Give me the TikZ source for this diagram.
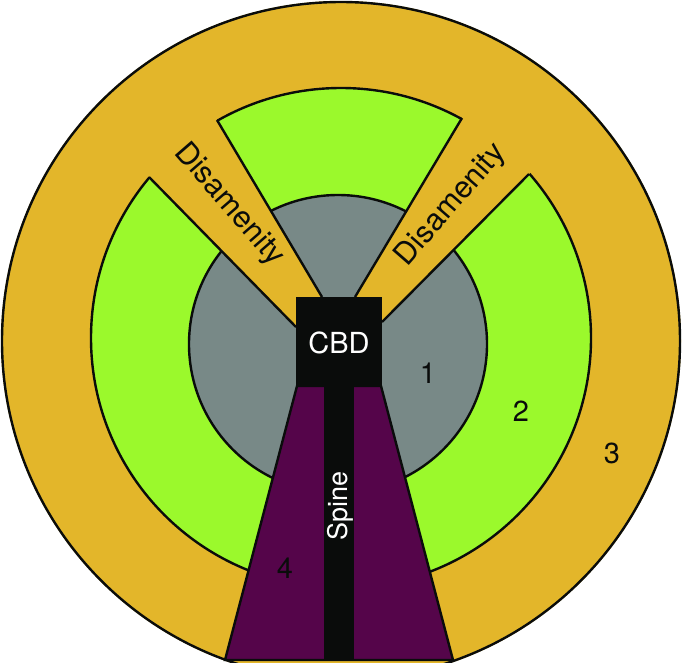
\documentclass[tikz,border=0pt]{standalone}
\usepackage{fontspec}
\setmainfont{TeX Gyre Heros}
\usetikzlibrary{calc}
\definecolor{ringorange}{HTML}{E3B62A}
\definecolor{ringgreen}{HTML}{9BF92C}
\definecolor{ringgray}{HTML}{788987}
\definecolor{spinepurple}{HTML}{55054A}
\definecolor{nearblack}{HTML}{0A0C0B}
\begin{document}
\begin{tikzpicture}[x=1pt,y=-1pt,
  outl/.style={draw=nearblack,line width=2.4pt},
  lbl/.style={font=\fontsize{29}{30}\selectfont,inner sep=0pt,text=nearblack},
  dlbl/.style={font=\fontsize{30.5}{31}\selectfont,inner sep=0pt,text=nearblack},
  wlbl/.style={font=\fontsize{29}{30}\selectfont,inner sep=0pt,text=white}]
\useasboundingbox (0,0) rectangle (682,662);
\clip (0,0) rectangle (682,662);
% rings
\coordinate (c3) at (341,341);
\coordinate (c2) at (341,338);
\coordinate (c1) at (338,344);
\fill[ringorange] (c3) circle[radius=340];
\draw[outl] (c3) circle[radius=339];
\draw[outl,fill=ringgreen] (c2) circle[radius=250];
\draw[outl,fill=ringgray] (c1) circle[radius=149];
% disamenity wedges
\coordinate (lwA) at (296,327);
\coordinate (lwB) at (149,177);
\coordinate (lwC) at (217,120);
\coordinate (lwD) at (322,297);
\coordinate (rwA) at (355,297);
\coordinate (rwB) at (462,118);
\coordinate (rwC) at (529,174);
\coordinate (rwD) at (382,322);
\fill[ringorange] (lwA) -- ($(lwA)!1.3!(lwB)$) -- ($(lwD)!1.3!(lwC)$) -- (lwD) -- (310,310) -- cycle;
\fill[ringorange] (rwA) -- ($(rwA)!1.3!(rwB)$) -- ($(rwD)!1.3!(rwC)$) -- (rwD) -- (368,310) -- cycle;
\draw[outl] (lwA) -- (lwB);
\draw[outl] (lwD) -- (lwC);
\draw[outl] (rwA) -- (rwB);
\draw[outl] (rwD) -- (rwC);
% zone 4 trapezoid
\coordinate (tTL) at (297,386);
\coordinate (tTR) at (381,386);
\coordinate (tBR) at (453,660);
\coordinate (tBL) at (225,660);
\draw[outl,fill=spinepurple,line join=miter] (tTL) -- (tTR) -- (tBR) -- (tBL) -- cycle;
% spine
\fill[nearblack] (324,386) rectangle (354,661);
% CBD
\node[fill=nearblack,minimum width=86pt,minimum height=89pt,inner sep=0pt] (cbd) at (339,341.5) {};
\node[wlbl] (cbdtxt) at (339,343) {CBD};
\node[wlbl,font=\fontsize{27}{28}\selectfont,rotate=90] (spinetxt) at (340.5,505.5) {Spine};
% labels
\node[dlbl,rotate=-49] (dl) at (229,205) {Disamenity};
\node[dlbl,rotate=49] (dr) at (451,205) {Disamenity};
\node[lbl] (n1) at (428,373) {1};
\node[lbl] (n2) at (521,411) {2};
\node[lbl] (n3) at (612,453) {3};
\node[lbl] (n4) at (285,568) {4};
\end{tikzpicture}
\end{document}
